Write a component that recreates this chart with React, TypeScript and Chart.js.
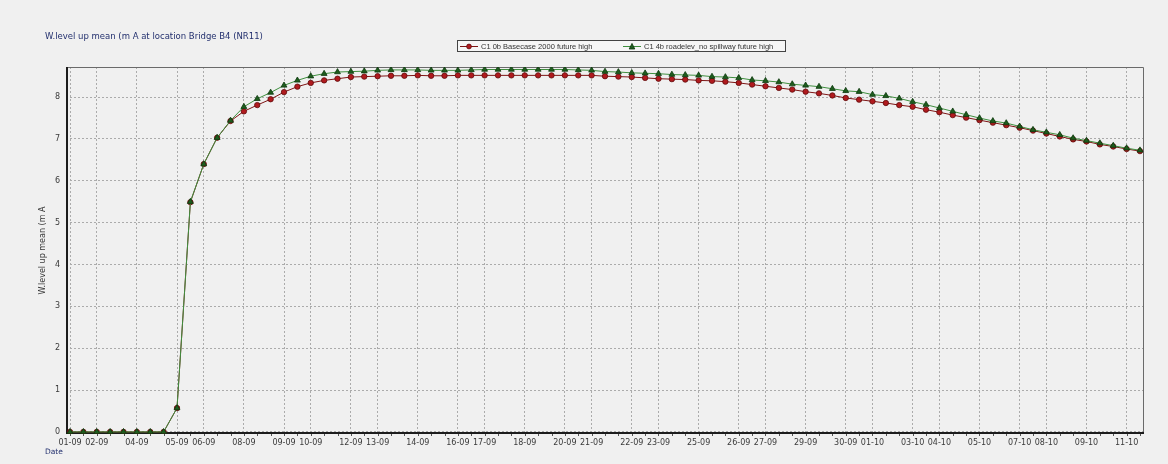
import React, { useEffect, useRef } from 'react';
import { Chart, registerables } from 'chart.js';

Chart.register(...registerables);

// Water level (m A) per time step
const basecase2000 = [
  0, 0, 0, 0, 0, 0, 0, 0, 0.57, 5.49, 6.40, 7.03, 7.43, 7.66, 7.81, 7.95,
  8.12, 8.25, 8.34, 8.40, 8.44, 8.48, 8.49, 8.50, 8.51, 8.51, 8.52, 8.51, 8.51, 8.52,
  8.52, 8.52, 8.52, 8.52, 8.52, 8.52, 8.52, 8.52, 8.52, 8.52,
  8.50, 8.49, 8.48, 8.46, 8.44, 8.43, 8.42, 8.40, 8.39, 8.37, 8.34, 8.30, 8.26, 8.22,
  8.18, 8.13, 8.09, 8.04, 7.98, 7.94, 7.90, 7.86, 7.81, 7.77, 7.70, 7.64, 7.57, 7.51,
  7.45, 7.39, 7.33, 7.27, 7.20, 7.13, 7.06, 6.99, 6.94, 6.87, 6.82, 6.76, 6.71,
];

const roadelevNoSpillway = [
  0, 0, 0, 0, 0, 0, 0, 0, 0.57, 5.50, 6.40, 7.03, 7.44, 7.77, 7.96, 8.11,
  8.28, 8.40, 8.50, 8.56, 8.60, 8.61, 8.62, 8.64, 8.65, 8.65, 8.65, 8.64, 8.64, 8.64,
  8.65, 8.66, 8.66, 8.66, 8.66, 8.66, 8.66, 8.66, 8.65, 8.64,
  8.61, 8.60, 8.58, 8.57, 8.56, 8.54, 8.53, 8.52, 8.49, 8.48, 8.46, 8.41, 8.39, 8.36,
  8.31, 8.28, 8.25, 8.20, 8.15, 8.13, 8.06, 8.03, 7.97, 7.89, 7.82, 7.74, 7.66, 7.58,
  7.50, 7.43, 7.38, 7.30, 7.22, 7.16, 7.10, 7.02, 6.96, 6.90, 6.84, 6.78, 6.73,
];

// Date tick labels and the time step at which each one sits
const tickSteps = [0, 2, 5, 8, 10, 13, 16, 18, 21, 23, 26, 29, 31, 34, 37, 39, 42, 44, 47, 50, 52, 55, 58, 60, 63, 65, 68, 71, 73, 76, 79];
const tickLabels = [
  '01-09', '02-09', '04-09', '05-09', '06-09', '08-09', '09-09', '10-09', '12-09', '13-09',
  '14-09', '16-09', '17-09', '18-09', '20-09', '21-09', '22-09', '23-09', '25-09', '26-09',
  '27-09', '29-09', '30-09', '01-10', '03-10', '04-10', '05-10', '07-10', '08-10', '09-10', '11-10',
];
const yTicks = [0, 1, 2, 3, 4, 5, 6, 7, 8];

const titleText = 'W.level up mean (m A at location Bridge B4 (NR11)';
const yTitle = 'W.level up mean (m A';
const xTitle = 'Date';
const seriesNames = ['C1 0b Basecase 2000 future high', 'C1 4b roadelev_no spillway future high'];

const RED_LINE = '#7d1414';
const RED_FILL = '#b01a1e';
const RED_EDGE = '#5e0a0a';
const GREEN_LINE = '#3f8f3f';
const GREEN_FILL = '#1e5c1e';
const GREEN_EDGE = '#0c380c';
const GRID = '#ababab';
const BG = '#f0f0f0';

const tickFont = { family: 'DejaVu Sans', size: 8 };

const framePlugin = {
  id: 'frame',
  beforeDatasetsDraw(chart: any) {
    const { ctx, chartArea } = chart;
    const { left, right, top, bottom } = chartArea;
    ctx.save();
    ctx.strokeStyle = '#6a6a6a';
    ctx.lineWidth = 1;
    ctx.beginPath();
    ctx.moveTo(left, top + 0.5);
    ctx.lineTo(right - 0.5, top + 0.5);
    ctx.lineTo(right - 0.5, bottom);
    ctx.stroke();
    ctx.strokeStyle = '#1c1c1c';
    ctx.lineWidth = 2;
    ctx.beginPath();
    ctx.moveTo(left + 1, top);
    ctx.lineTo(left + 1, bottom - 1);
    ctx.lineTo(right, bottom - 1);
    ctx.stroke();
    const xs = chart.scales.x;
    ctx.strokeStyle = '#555';
    ctx.lineWidth = 1;
    ctx.beginPath();
    for (let i = 0; i < basecase2000.length; i++) {
      const px = Math.round(xs.getPixelForValue(i)) + 0.5;
      ctx.moveTo(px, bottom);
      ctx.lineTo(px, bottom + 2);
    }
    ctx.stroke();
    ctx.restore();
  },
};

function LegendMarker({ kind }: { kind: 'circle' | 'triangle' }) {
  return (
    <svg width={18} height={9} style={{ display: 'block' }}>
      <line x1={0} y1={4.5} x2={18} y2={4.5} stroke={kind === 'circle' ? RED_LINE : GREEN_LINE} strokeWidth={1} />
      {kind === 'circle' ? (
        <circle cx={9} cy={4.5} r={2.4} fill={RED_FILL} stroke={RED_EDGE} strokeWidth={0.8} />
      ) : (
        <polygon points="9,1.4 11.8,7 6.2,7" fill={GREEN_FILL} stroke={GREEN_EDGE} strokeWidth={0.8} />
      )}
    </svg>
  );
}

export default function App() {
  const canvasRef = useRef<HTMLCanvasElement | null>(null);

  useEffect(() => {
    if (!canvasRef.current) return;
    const chart = new Chart(canvasRef.current, {
      type: 'line',
      data: {
        datasets: [
          {
            label: seriesNames[0],
            data: basecase2000.map((y, i) => ({ x: i, y })),
            borderColor: RED_LINE,
            borderWidth: 1,
            backgroundColor: RED_FILL,
            pointBackgroundColor: RED_FILL,
            pointBorderColor: RED_EDGE,
            pointBorderWidth: 0.8,
            pointStyle: 'circle',
            pointRadius: 2.7,
            tension: 0,
            order: 2,
          },
          {
            label: seriesNames[1],
            data: roadelevNoSpillway.map((y, i) => ({ x: i, y })),
            borderColor: GREEN_LINE,
            borderWidth: 1,
            backgroundColor: GREEN_FILL,
            pointBackgroundColor: GREEN_FILL,
            pointBorderColor: GREEN_EDGE,
            pointBorderWidth: 0.8,
            pointStyle: 'triangle',
            pointRadius: 3.4,
            tension: 0,
            order: 1,
          },
        ],
      },
      options: {
        animation: false,
        responsive: false,
        maintainAspectRatio: false,
        layout: { padding: { left: 0, right: 24, top: 67, bottom: 0 } },
        plugins: {
          legend: { display: false },
          tooltip: { enabled: false },
          title: { display: false },
        },
        scales: {
          x: {
            type: 'linear',
            min: -0.3,
            max: 80.3,
            afterBuildTicks: (s: any) => {
              s.ticks = tickSteps.map((v) => ({ value: v }));
            },
            afterFit: (s: any) => {
              s.height = 30;
            },
            ticks: {
              autoSkip: false,
              maxRotation: 0,
              minRotation: 0,
              padding: 4,
              color: '#3a3a3a',
              font: tickFont,
              callback: (v: any) => {
                const k = tickSteps.indexOf(Number(v));
                return k >= 0 ? tickLabels[k] : '';
              },
            },
            grid: { color: GRID, lineWidth: 1, tickLength: 0, drawTicks: false },
            border: { display: false, dash: [2, 2] },
          },
          y: {
            type: 'linear',
            min: -0.05,
            max: 8.72,
            afterBuildTicks: (s: any) => {
              s.ticks = yTicks.map((v) => ({ value: v }));
            },
            afterFit: (s: any) => {
              s.width = 66;
            },
            ticks: {
              padding: 6,
              color: '#3a3a3a',
              font: tickFont,
            },
            grid: { color: GRID, lineWidth: 1, tickLength: 0, drawTicks: false },
            border: { display: false, dash: [2, 2] },
            title: {
              display: true,
              text: yTitle,
              color: '#3a3a3a',
              font: { family: 'DejaVu Sans', size: 8 },
              padding: { top: 38, bottom: 0 },
            },
          },
        },
      },
      plugins: [framePlugin],
    });
    return () => chart.destroy();
  }, []);

  return (
    <div style={{ position: 'absolute', left: 0, top: 0, width: 1168, height: 464, background: BG, overflow: 'hidden' }}>
      <canvas ref={canvasRef} width={1168} height={464} style={{ position: 'absolute', left: 0, top: 0 }} />
      <div
        style={{
          position: 'absolute',
          left: 45,
          top: 30,
          fontFamily: 'DejaVu Sans',
          fontSize: 8.5,
          color: '#23306e',
          whiteSpace: 'nowrap',
          lineHeight: '12px',
        }}
      >
        {titleText}
      </div>
      <div
        style={{
          position: 'absolute',
          left: 45,
          top: 446,
          fontFamily: 'DejaVu Sans',
          fontSize: 7.5,
          color: '#23306e',
          lineHeight: '11px',
        }}
      >
        {xTitle}
      </div>
      <div
        style={{
          position: 'absolute',
          left: 457,
          top: 40,
          width: 327,
          height: 10,
          border: '1px solid #444',
          background: '#f6f6f6',
          display: 'flex',
          alignItems: 'center',
          fontFamily: 'Liberation Sans',
          fontSize: 7.5,
          color: '#333',
          whiteSpace: 'nowrap',
        }}
      >
        <div style={{ marginLeft: 2 }}>
          <LegendMarker kind="circle" />
        </div>
        <span style={{ marginLeft: 3 }}>{seriesNames[0]}</span>
        <div style={{ position: 'absolute', left: 165 }}>
          <LegendMarker kind="triangle" />
        </div>
        <span style={{ position: 'absolute', left: 186 }}>{seriesNames[1]}</span>
      </div>
    </div>
  );
}
